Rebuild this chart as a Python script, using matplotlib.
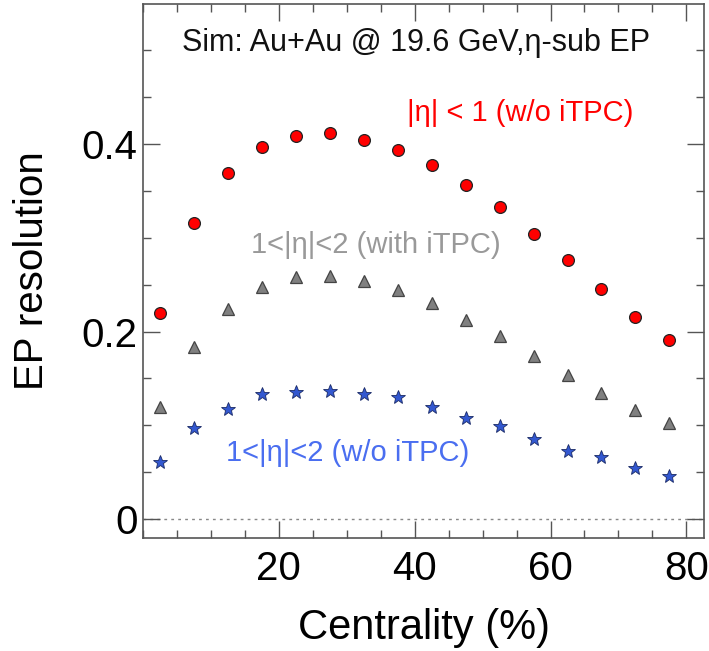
"""EP resolution vs centrality, Au+Au 19.6 GeV simulation (eta-sub EP)."""
import matplotlib
matplotlib.use("Agg")
import matplotlib.pyplot as plt
from matplotlib.ticker import MultipleLocator

plt.rcParams["font.family"] = ["Liberation Sans", "DejaVu Sans"]

centrality = [2.5, 7.5, 12.5, 17.5, 22.5, 27.5, 32.5, 37.5,
              42.5, 47.5, 52.5, 57.5, 62.5, 67.5, 72.5, 77.5]
res_tpc = [0.220, 0.316, 0.369, 0.397, 0.408, 0.411, 0.404, 0.393,
           0.377, 0.356, 0.333, 0.304, 0.276, 0.245, 0.215, 0.191]
res_itpc = [0.120, 0.184, 0.224, 0.247, 0.258, 0.259, 0.254, 0.244,
            0.230, 0.212, 0.195, 0.174, 0.154, 0.135, 0.116, 0.103]
res_fwd = [0.061, 0.097, 0.117, 0.133, 0.136, 0.137, 0.133, 0.130,
           0.120, 0.108, 0.099, 0.085, 0.073, 0.066, 0.055, 0.046]

FRAME = "#555555"

fig = plt.figure(figsize=(7.09, 6.51), dpi=100)
ax = fig.add_axes([0.2017, 0.1736, 0.7913, 0.8203])

ax.axhline(0, color="#888888", ls=(0, (2, 3)), lw=1.0, zorder=1)

ax.plot(centrality, res_tpc, ls="none", marker="o", ms=8.5, mfc="#ff0000",
        mec="#222222", mew=0.9, zorder=3)
ax.plot(centrality, res_itpc, ls="none", marker="^", ms=8.5, mfc="#808080",
        mec="#444444", mew=0.9, zorder=3)
ax.plot(centrality, res_fwd, ls="none", marker="*", ms=10, mfc="#3358d0",
        mec="#1a2a66", mew=0.6, zorder=3)

ax.set_xlim(0, 82.6)
ax.set_ylim(-0.02, 0.549)
ax.xaxis.set_major_locator(MultipleLocator(20))
ax.xaxis.set_minor_locator(MultipleLocator(5))
ax.yaxis.set_major_locator(MultipleLocator(0.2))
ax.yaxis.set_minor_locator(MultipleLocator(0.05))
ax.set_xticks([20, 40, 60, 80])
ax.set_xticklabels(["20", "40", "60", "80"])
ax.set_yticks([0, 0.2, 0.4])
ax.set_yticklabels(["0", "0.2", "0.4"])

ax.tick_params(which="both", direction="in", top=True, right=True, color=FRAME)
ax.tick_params(which="major", length=12, width=1.0)
ax.tick_params(which="minor", length=6, width=1.0)
ax.tick_params(axis="x", which="major", labelsize=29, pad=9)
ax.tick_params(axis="y", which="major", labelsize=29, pad=4)
for s in ax.spines.values():
    s.set_color(FRAME)
    s.set_linewidth(1.2)

ax.set_xlabel("Centrality (%)", fontsize=30, labelpad=14)
ax.set_ylabel("EP resolution", fontsize=29, labelpad=22)

ax.text(0.487, 0.927, "Sim: Au+Au @ 19.6 GeV,\u03b7-sub EP", transform=ax.transAxes,
        ha="center", va="center", fontsize=22, color="#111111")
ax.text(0.672, 0.796, "|\u03b7| < 1 (w/o iTPC)", transform=ax.transAxes,
        ha="center", va="center", fontsize=21, color="#ff0000")
ax.text(0.415, 0.549, "1<|\u03b7|<2 (with iTPC)", transform=ax.transAxes,
        ha="center", va="center", fontsize=21, color="#999999")
ax.text(0.364, 0.159, "1<|\u03b7|<2 (w/o iTPC)", transform=ax.transAxes,
        ha="center", va="center", fontsize=21, color="#4a6ef0")

fig.savefig("out.png", dpi=100)
